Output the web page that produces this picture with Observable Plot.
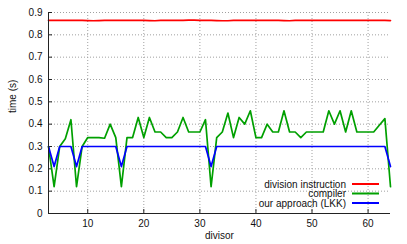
<!DOCTYPE html>
<html>
<head>
<meta charset="utf-8">
<script src="https://cdn.jsdelivr.net/npm/d3@7"></script>
<script src="https://cdn.jsdelivr.net/npm/@observablehq/plot@0.6"></script>
<style>
  html, body { margin: 0; padding: 0; background: #fff; }
  #chart svg { display: block; }
</style>
</head>
<body>
<div id="chart"></div>
<script>
const divisors = [3,4,5,6,7,8,9,10,11,12,13,14,15,16,17,18,19,20,21,22,23,24,25,26,27,28,29,30,31,32,33,34,35,36,37,38,39,40,41,42,43,44,45,46,47,48,49,50,51,52,53,54,55,56,57,58,59,60,61,62,63,64];

const divisionInstruction = [0.865,0.865,0.865,0.865,0.865,0.865,0.865,0.864,0.863,0.864,0.865,0.865,0.865,0.865,0.865,0.865,0.865,0.865,0.864,0.863,0.865,0.865,0.865,0.865,0.865,0.866,0.866,0.865,0.865,0.865,0.864,0.863,0.863,0.865,0.865,0.865,0.865,0.865,0.865,0.865,0.865,0.865,0.864,0.863,0.865,0.865,0.865,0.865,0.865,0.865,0.865,0.865,0.865,0.865,0.865,0.865,0.865,0.865,0.865,0.865,0.865,0.864];

const compiler = [0.30,0.12,0.30,0.335,0.42,0.12,0.30,0.34,0.34,0.34,0.337,0.40,0.34,0.12,0.34,0.34,0.43,0.34,0.43,0.365,0.365,0.34,0.34,0.365,0.43,0.365,0.365,0.365,0.42,0.12,0.34,0.365,0.45,0.34,0.43,0.40,0.46,0.34,0.34,0.40,0.365,0.365,0.46,0.365,0.365,0.34,0.365,0.365,0.365,0.365,0.46,0.40,0.46,0.365,0.46,0.365,0.365,0.365,0.365,0.395,0.425,0.12];

const ourApproach = [0.30,0.21,0.30,0.30,0.30,0.21,0.30,0.30,0.30,0.30,0.30,0.30,0.30,0.21,0.30,0.30,0.30,0.30,0.30,0.30,0.30,0.30,0.30,0.30,0.30,0.30,0.30,0.30,0.30,0.21,0.30,0.30,0.30,0.30,0.30,0.30,0.30,0.30,0.30,0.30,0.30,0.30,0.30,0.30,0.30,0.30,0.30,0.30,0.30,0.30,0.30,0.30,0.30,0.30,0.30,0.30,0.30,0.30,0.30,0.30,0.30,0.21];

const seriesNames = ["division instruction", "compiler", "our approach (LKK)"];
const seriesColors = ["#ff0000", "#00a000", "#0000ff"];
const xTicks = [10, 20, 30, 40, 50, 60];
const yTicks = [0, 0.1, 0.2, 0.3, 0.4, 0.5, 0.6, 0.7, 0.8, 0.9];
const yTickLabels = ["0", "0.1", "0.2", "0.3", "0.4", "0.5", "0.6", "0.7", "0.8", "0.9"];
const xDomain = [3, 64];
const yDomain = [0, 0.9];
const xLabel = "divisor";
const yLabel = "time (s)";

const seriesValues = [divisionInstruction, compiler, ourApproach];
const rows = [];
seriesNames.forEach((name, s) => {
  divisors.forEach((d, i) => rows.push({series: name, divisor: d, time: seriesValues[s][i]}));
});

const font = "'Liberation Sans', Arial, sans-serif";

function legend(index, scales, values, dims) {
  const g = d3.create("svg:g").attr("font-family", font).attr("font-size", 10);
  const right = dims.width - dims.marginRight;
  const bottom = dims.height - dims.marginBottom;
  const offsets = [29, 19.5, 10];
  seriesNames.forEach((name, i) => {
    const y = bottom - offsets[i];
    g.append("text").attr("x", right - 44).attr("y", y).attr("dy", "0.35em")
      .attr("text-anchor", "end").attr("fill", "#111").text(name);
    g.append("line").attr("x1", right - 38).attr("x2", right - 11)
      .attr("y1", y).attr("y2", y).attr("stroke", seriesColors[i]).attr("stroke-width", 2);
  });
  return g.node();
}

const chart = Plot.plot({
  width: 407,
  height: 244,
  marginLeft: 48,
  marginRight: 17,
  marginTop: 12,
  marginBottom: 31,
  style: {fontFamily: font, fontSize: "10px", color: "#111", background: "#fff"},
  x: {domain: xDomain, axis: null},
  y: {domain: yDomain, axis: null},
  color: {domain: seriesNames, range: seriesColors},
  marks: [
    Plot.gridX(xTicks, {stroke: "#a0a0a0", strokeOpacity: 1, strokeDasharray: "1,2"}),
    Plot.gridY(yTicks.slice(1), {stroke: "#a0a0a0", strokeOpacity: 1, strokeDasharray: "1,2"}),
    Plot.axisX(xTicks, {tickSize: 0, tickPadding: 6, fill: "#111", label: null}),
    Plot.axisX(xTicks, {tickSize: 4, dy: -4, stroke: "#222", fill: "none", label: null}),
    Plot.axisY(yTicks, {tickSize: 0, tickPadding: 6, fill: "#111", label: null, tickFormat: (d, i) => yTickLabels[i]}),
    Plot.axisY(yTicks, {tickSize: 4, dx: 4, stroke: "#222", fill: "none", label: null}),
    Plot.line(rows, {x: "divisor", y: "time", z: "series", stroke: "series", strokeWidth: 1.7}),
    Plot.ruleY([yDomain[0]], {stroke: "#222"}),
    Plot.ruleX([xDomain[0]], {stroke: "#222"}),
    Plot.text([xLabel], {frameAnchor: "bottom", dy: 25, fill: "#111", fontSize: 10}),
    Plot.text([yLabel], {frameAnchor: "left", dx: -36, rotate: -90, fill: "#111", fontSize: 10}),
    legend
  ]
});

document.getElementById("chart").appendChild(chart);
</script>
</body>
</html>
